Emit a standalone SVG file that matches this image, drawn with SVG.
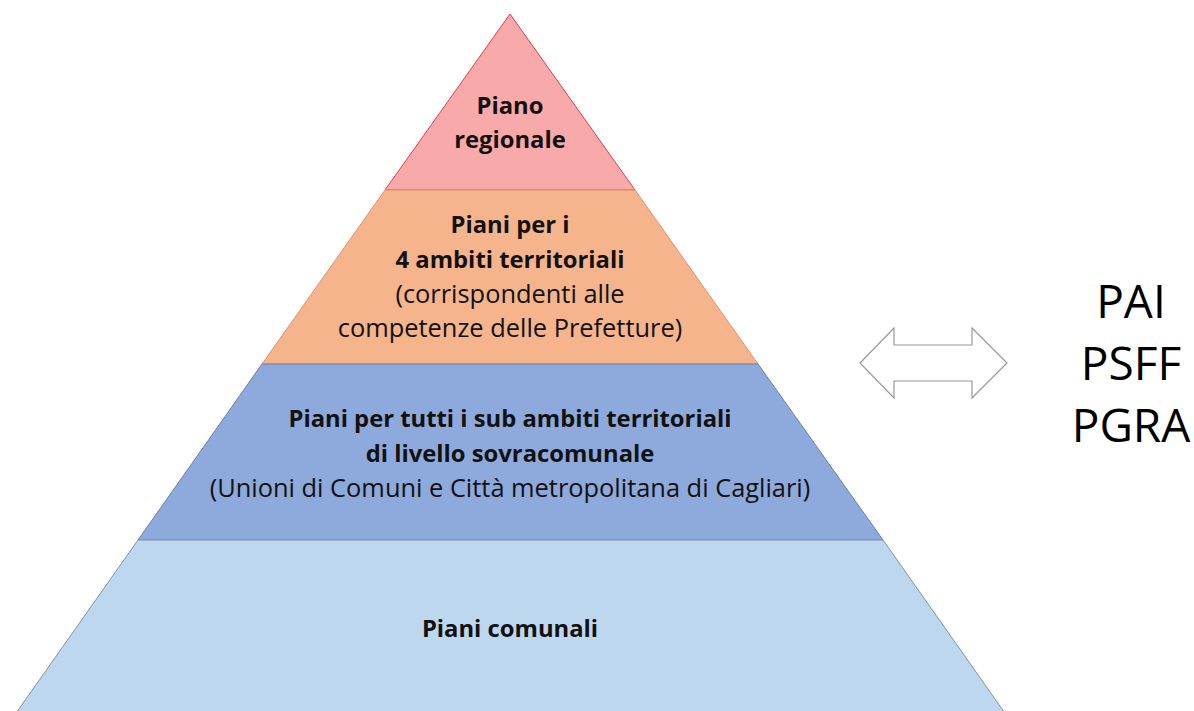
<svg xmlns="http://www.w3.org/2000/svg" width="1194" height="711" viewBox="0 0 1194 711">
<style>
text{font-family:"Open Sans","Noto Sans",sans-serif;fill:#111;text-anchor:middle}
.b{font-weight:bold;font-size:23.8px}
.r{font-size:25.4px}
.big{font-size:46px;fill:#000}
</style>
<rect width="1194" height="711" fill="#fff"/>
<g id="level-regionale">
<polygon points="510,14 635,190 385,190" fill="#F8A9AA" stroke="#E0404A" stroke-width="1"/>
<text class="b" x="510" y="114">Piano</text>
<text class="b" x="510" y="148">regionale</text>
</g>
<g id="level-ambiti">
<polygon points="385,190 635,190 758,364 262,364" fill="#F5B48C" stroke="#E09070" stroke-width="1"/>
<text class="b" x="510" y="233">Piani per i</text>
<text class="b" x="510" y="268">4 ambiti territoriali</text>
<text class="r" x="510" y="303">(corrispondenti alle</text>
<text class="r" x="510" y="337">competenze delle Prefetture)</text>
</g>
<g id="level-sub-ambiti">
<polygon points="262,364 758,364 883,540 138,540" fill="#8EA9DB" stroke="#6A80A8" stroke-width="1"/>
<text class="b" x="510" y="427">Piani per tutti i sub ambiti territoriali</text>
<text class="b" x="510" y="462">di livello sovracomunale</text>
<text class="r" x="510" y="497">(Unioni di Comuni e Città metropolitana di Cagliari)</text>
</g>
<g id="level-comunali">
<polygon points="138,540 883,540 1007,716 14,716" fill="#BDD7EE" stroke="#7F94AA" stroke-width="1"/>
<text class="b" x="510" y="637">Piani comunali</text>
</g>
<g id="connectors">
<polygon points="860,363 894,328 894,345 972,345 972,328 1007,363 972,398 972,381 894,381 894,398" fill="#fff" stroke="#999" stroke-width="1.2"/>
</g>
<g id="plans">
<text class="big" x="1131" y="318">PAI</text>
<text class="big" x="1131" y="380">PSFF</text>
<text class="big" x="1131" y="442">PGRA</text>
</g>
</svg>
